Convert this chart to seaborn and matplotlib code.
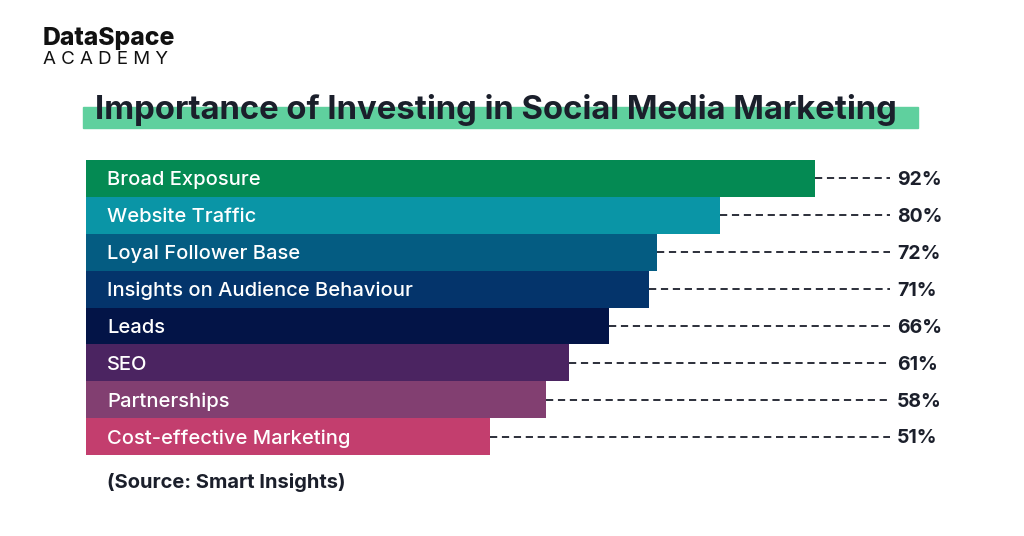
import matplotlib
matplotlib.use("Agg")
import matplotlib.pyplot as plt
import seaborn as sns
from matplotlib.patches import Rectangle

# data
categories = ["Broad Exposure", "Website Traffic", "Loyal Follower Base",
              "Insights on Audience Behaviour", "Leads", "SEO",
              "Partnerships", "Cost-effective Marketing"]
values = [92, 80, 72, 71, 66, 61, 58, 51]
bar_colors = ["#048a53", "#0a95a6", "#045c82", "#04346b",
              "#031447", "#4b2461", "#823f71", "#c33e6e"]

sns.set_theme(style="white")
plt.rcParams["font.family"] = ["Inter", "DejaVu Sans"]
dark = "#1b1f2b"

fig = plt.figure(figsize=(10.24, 5.36), dpi=100)
fig.patch.set_facecolor("white")

# axes placed so bars start at x~86px and run ~7.93px per percent
left_px, right_px, px_per = 85.6, 1000.0, 7.93
ax = fig.add_axes([left_px / 1024, 1 - 455 / 536,
                   (right_px - left_px) / 1024, (455 - 160) / 536])
ax.set_xlim(0, (right_px - left_px) / px_per)

sns.barplot(x=values, y=categories, hue=categories, palette=bar_colors,
            width=1.0, orient="h", legend=False, ax=ax, saturation=1,
            linewidth=0, edgecolor="none")
ax.set_ylim(7.5, -0.5)

line_end = (890 - left_px) / px_per
label_x = (897 - left_px) / px_per
text_x = (107 - left_px) / px_per
for i, (cat, v) in enumerate(zip(categories, values)):
    ax.text(text_x, i + 0.05, cat, color="white", fontsize=14.5, fontweight="medium",
            va="center", ha="left")
    ax.plot([v, line_end], [i, i], color=dark, lw=1.3, linestyle=(0, (4, 2.6)))
    ax.text(label_x, i + 0.05, f"{v}%", color=dark, fontsize=14, fontweight="bold",
            va="center", ha="left")

ax.axis("off")

# title with green highlight
fig.patches.append(Rectangle((83 / 1024, 1 - 128 / 536), (918 - 83) / 1024, 21 / 536,
                             transform=fig.transFigure, color="#5fd09e", zorder=0))
fig.text(95 / 1024, 1 - 110 / 536, "Importance of Investing in Social Media Marketing",
         fontsize=23.7, fontweight="bold", color=dark, va="center", ha="left", zorder=2)

# logo
fig.text(43 / 1024, 1 - 39 / 536, "DataSpace", fontsize=17.8, fontweight="heavy",
         color="#111111", va="center", ha="left")
fig.text(43 / 1024, 1 - 60 / 536, "A C A D E M Y", fontsize=13.5,
         color="#111111", va="center", ha="left")

# source note
fig.text(107 / 1024, 1 - 483 / 536, "(Source: Smart Insights)", fontsize=14.5,
         fontweight="bold", color=dark, va="center", ha="left")

fig.savefig("out.png", dpi=100, facecolor="white")
